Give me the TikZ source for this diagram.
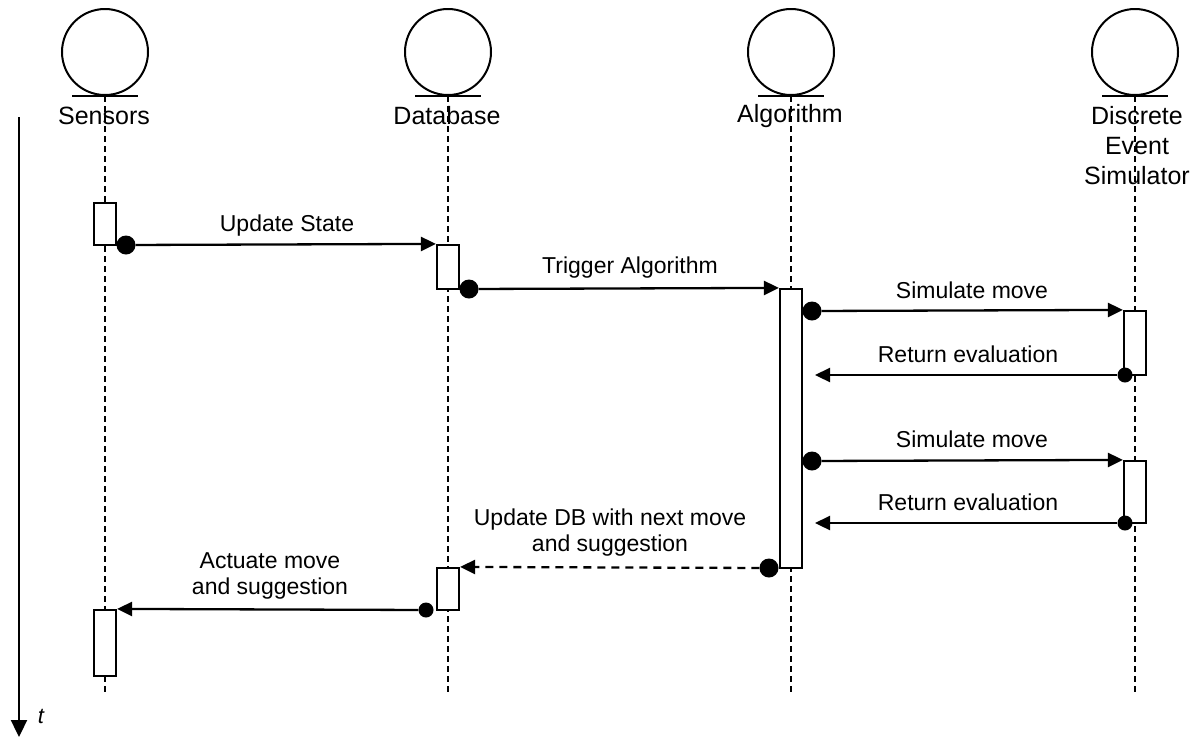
\documentclass[tikz,border=0pt]{standalone}
\usepackage{fontspec}
\setmainfont{Liberation Sans}
\usetikzlibrary{arrows.meta}
\begin{document}
\begin{tikzpicture}[x=1pt,y=-1pt,
  entity/.style={circle, draw, line width=2pt, minimum size=86pt, inner sep=0pt},
  uline/.style={line width=2pt},
  act/.style={rectangle, draw, line width=2.2pt, fill=white, minimum width=22pt, inner sep=0pt},
  lifeline/.style={line width=1.8pt, dash pattern=on 6pt off 4pt},
  msg/.style={line width=2.3pt, -{Triangle[length=15pt,width=14pt]}},
  dmsg/.style={msg, dash pattern=on 8pt off 6pt},
  dotbig/.style={circle, fill=black, inner sep=0pt, minimum size=19pt},
  dotsmall/.style={circle, fill=black, inner sep=0pt, minimum size=15pt},
  lbl/.style={font=\fontsize{23}{26}\selectfont, align=center, inner sep=0pt},
  elbl/.style={font=\fontsize{25}{30}\selectfont, align=center, inner sep=0pt}]
\useasboundingbox (0,0) rectangle (1194,740);
\fill[white] (0,0) rectangle (1194,740);
% entities
\node[entity] (sens) at (105,52) {};
\node[entity] (db) at (448,52) {};
\node[entity] (alg) at (791,52) {};
\node[entity] (des) at (1135,52) {};
\foreach \e in {sens,db,alg,des}{
  \draw[uline] ([xshift=-33pt]\e.south) -- ([xshift=33pt]\e.south);
}
\coordinate (sensEnd) at (105,695);
\coordinate (dbEnd) at (448,695);
\coordinate (algEnd) at (791,695);
\coordinate (desEnd) at (1135,695);
\draw[lifeline] (sens.south) -- (sensEnd);
\draw[lifeline] (db.south) -- (dbEnd);
\draw[lifeline] (alg.south) -- (algEnd);
\draw[lifeline] (des.south) -- (desEnd);
\node[elbl] (sensL) at (104,116) {Sensors};
\node[elbl] (dbL) at (447,116) {Database};
\node[elbl] (algL) at (790,116) {Algorithm};
\node[elbl] (desL) at (1137,146) {Discrete\\Event\\Simulator};
% time axis
\coordinate (t0) at (19,117);
\coordinate (t1) at (19,737);
\draw[line width=2.3pt, -{Triangle[length=17pt,width=16pt]}] (t0) -- (t1);
\node[font=\fontsize{22}{26}\selectfont\itshape, inner sep=0pt] (tl) at (41,716) {t};
% activation boxes
\node[act, minimum height=42pt] (s1) at (105,224) {};
\node[act, minimum height=44pt] (d1) at (448,267) {};
\node[act, minimum height=279pt] (a1) at (791,428.5) {};
\node[act, minimum height=64pt] (e1) at (1135,343) {};
\node[act, minimum height=62pt] (e2) at (1135,492) {};
\node[act, minimum height=42pt] (d2) at (448,589) {};
\node[act, minimum height=66pt] (s2) at (105,643) {};
% dots
\node[dotbig] (p1) at (126,245) {};
\node[dotbig] (p2) at (469,289) {};
\node[dotbig] (p3) at (812,311) {};
\node[dotsmall] (p4) at (1125,375) {};
\node[dotbig] (p5) at (812,461) {};
\node[dotsmall] (p6) at (1125,523) {};
\node[dotbig] (p7) at (769,568) {};
\node[dotsmall] (p8) at (426,610) {};
\coordinate (r1) at (815,375);
\coordinate (r2) at (815,523);
% messages
\draw[msg] (p1) -- (d1.north west);
\draw[msg] (p2) -- (a1.north west);
\draw[msg] (p3) -- (e1.north west);
\draw[msg] (p4) -- (r1);
\draw[msg] (p5) -- (e2.north west);
\draw[msg] (p6) -- (r2);
\draw[dmsg] (p7) -- (d2.north east);
\draw[msg] (p8) -- (s2.north east);
% labels
\node[lbl] (l1) at (287,226) {Update State};
\node[lbl] (l2) at (630,268) {Trigger Algorithm};
\node[lbl] (l3) at (972,290) {Simulate move};
\node[lbl] (l4) at (968,354) {Return evaluation};
\node[lbl] (l5) at (972,439) {Simulate move};
\node[lbl] (l6) at (968,502) {Return evaluation};
\node[lbl] (l7) at (610,533) {Update DB with next move\\and suggestion};
\node[lbl] (l8) at (270,576) {Actuate move\\and suggestion};
\end{tikzpicture}
\end{document}
